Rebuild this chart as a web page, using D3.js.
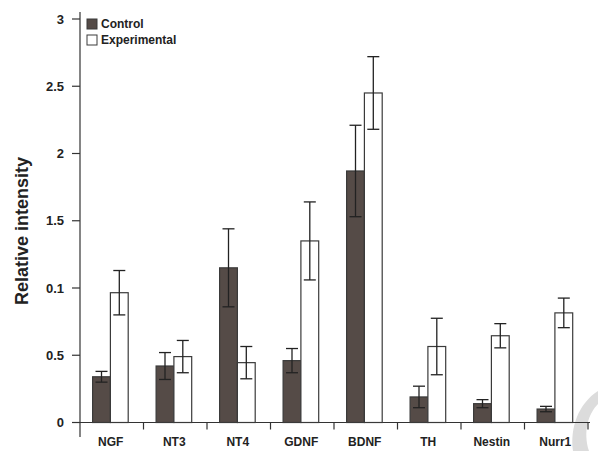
<!DOCTYPE html>
<html><head><meta charset="utf-8">
<script src="https://cdn.jsdelivr.net/npm/d3@7/dist/d3.min.js"></script>
<style>body{margin:0;background:#fff}svg{display:block}text{font-family:"Liberation Sans",Arial,sans-serif;font-weight:bold;fill:#222}</style>
</head><body><svg id="c" width="598" height="451"></svg>
<script>
const categories = ["NGF","NT3","NT4","GDNF","BDNF","TH","Nestin","Nurr1"];
const controlVals = [0.34,0.42,1.15,0.46,1.87,0.19,0.14,0.10];
const controlErr  = [0.04,0.10,0.29,0.09,0.34,0.08,0.03,0.02];
const expVals     = [0.965,0.49,0.445,1.35,2.45,0.565,0.645,0.815];
const expErr      = [0.165,0.12,0.12,0.29,0.27,0.21,0.09,0.11];
const yTickVals   = [0,0.5,1,1.5,2,2.5,3];
const yTickLabels = ["0","0.5","0.1","1.5","2","2.5","3"];
const seriesNames = ["Control","Experimental"];

const svg = d3.select("#c");
const x = d3.scaleBand().domain(categories).range([80,588]);
const y = d3.scaleLinear().domain([0,3]).range([422.5,19]);
const bw = 17.8, off = 12.6;
const ctrlFill = "#554b47", stroke = "#3a3a3a";

// watermark
svg.append("path").attr("d","M573,451 C570,428 578,404 598,391 L598,404 C588,414 583,432 589,451 Z")
  .attr("fill","#dcdcdc");

// axes
svg.append("line").attr("x1",80).attr("x2",80).attr("y1",12).attr("y2",437).attr("stroke","#333").attr("stroke-width",1.2);
svg.append("line").attr("x1",72).attr("x2",590).attr("y1",y(0)).attr("y2",y(0)).attr("stroke","#333").attr("stroke-width",1.2);
yTickVals.forEach((v,i)=>{
  svg.append("line").attr("x1",72).attr("x2",80).attr("y1",y(v)).attr("y2",y(v)).attr("stroke","#333").attr("stroke-width",1.2);
  svg.append("text").attr("x",64).attr("y",y(v)).attr("dy","0.35em").attr("text-anchor","end").attr("font-size",13).text(yTickLabels[i]);
});
categories.forEach((c,i)=>{
  const bx = x(c)+x.bandwidth();
  svg.append("line").attr("x1",bx).attr("x2",bx).attr("y1",y(0)).attr("y2",y(0)+7).attr("stroke","#333").attr("stroke-width",1.2);
  svg.append("text").attr("x",x(c)+x.bandwidth()/2-1).attr("y",446).attr("text-anchor","middle").attr("font-size",12).text(c);
});

svg.append("text").attr("transform","translate(28,231) rotate(-90)").attr("text-anchor","middle").attr("font-size",18).text("Relative intensity");

// bars
function drawSeries(vals, errs, dx, fill){
  categories.forEach((c,i)=>{
    const x0 = x(c)+off+dx;
    svg.append("rect").attr("x",x0).attr("y",y(vals[i])).attr("width",bw).attr("height",y(0)-y(vals[i]))
      .attr("fill",fill).attr("stroke",stroke).attr("stroke-width",1.2);
    const cx = x0+bw/2, hi=y(vals[i]+errs[i]), lo=y(vals[i]-errs[i]);
    svg.append("line").attr("x1",cx).attr("x2",cx).attr("y1",hi).attr("y2",lo).attr("stroke","#222").attr("stroke-width",1.3);
    [hi,lo].forEach(yy=>svg.append("line").attr("x1",cx-6).attr("x2",cx+6).attr("y1",yy).attr("y2",yy).attr("stroke","#222").attr("stroke-width",1.3));
  });
}
drawSeries(controlVals, controlErr, 0, ctrlFill);
drawSeries(expVals, expErr, bw, "#fff");

// legend
seriesNames.forEach((n,i)=>{
  svg.append("rect").attr("x",87).attr("y",19+i*16).attr("width",10).attr("height",10)
    .attr("fill",i==0?ctrlFill:"#fff").attr("stroke",stroke).attr("stroke-width",1);
  svg.append("text").attr("x",101).attr("y",24+i*16).attr("dy","0.35em").attr("font-size",12).text(n);
});
</script></body></html>
